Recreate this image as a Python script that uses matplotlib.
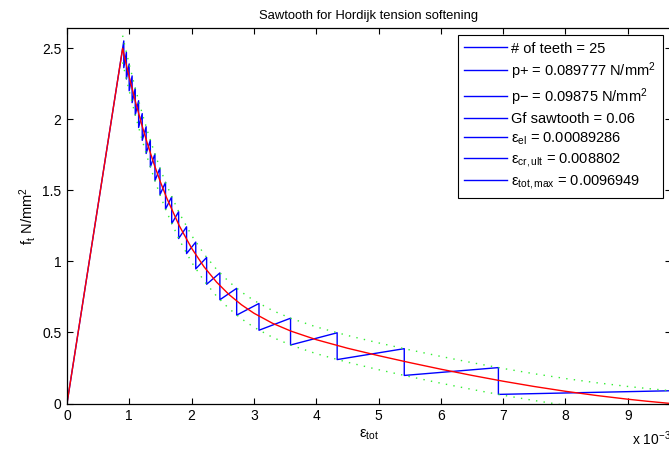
import matplotlib
matplotlib.use("Agg")
import matplotlib.pyplot as plt
from matplotlib.lines import Line2D
import numpy as np

plt.rcParams['font.family'] = ['Liberation Sans', 'DejaVu Sans']
plt.rcParams['mathtext.fontset'] = 'custom'
plt.rcParams['mathtext.rm'] = 'Liberation Sans'
plt.rcParams['mathtext.it'] = 'Liberation Sans:italic'
plt.rcParams['font.size'] = 9.5

# material / sawtooth parameters (strain values in 1e-3)
n_teeth = 25
p_plus = 0.089777
p_minus = 0.09875
gf_saw = 0.06
eps_el = 0.89286
eps_cr_ult = 8.802
eps_tot_max = 9.6949
f_t = 2.5

# Hordijk softening curve (strain in 1e-3, stress in N/mm2)
hordijk_eps = [0.0, 0.89286, 0.92, 0.95, 1.0, 1.1, 1.2, 1.3, 1.4, 1.5, 1.6, 1.8,
               2.0, 2.2, 2.4, 2.6, 2.8, 3.0, 3.3, 3.6, 4.0, 4.5, 5.0, 5.5,
               6.0, 6.5, 7.0, 7.5, 8.0, 8.5, 9.0, 9.3, 9.6949]
hordijk_sig = [0.0, 2.5, 2.447, 2.3896, 2.2970, 2.1229, 1.9629, 1.8161, 1.6817,
               1.5590, 1.4472, 1.2531, 1.0932, 0.9621, 0.8549, 0.7671, 0.6951,
               0.6357, 0.5645, 0.5087, 0.4495, 0.3894, 0.3369, 0.2880, 0.2416,
               0.1978, 0.1569, 0.1196, 0.0860, 0.0563, 0.0303, 0.0164, 0.0]

# sawtooth teeth: strain at each tooth, stress before and after the drop
tooth_eps = [0.9117, 0.9535, 0.9979, 1.0452, 1.0956, 1.1496, 1.2076, 1.2701,
             1.3378, 1.4115, 1.4922, 1.5813, 1.6804, 1.7919, 1.9191, 2.0666,
             2.2412, 2.4540, 2.7233, 3.0817, 3.5882, 4.3363, 5.4134, 6.9244,
             9.6945]
tooth_top = [2.5528, 2.4727, 2.3906, 2.3063, 2.2200, 2.1316, 2.0410, 1.9484,
             1.8536, 1.7568, 1.6580, 1.5572, 1.4545, 1.3500, 1.2439, 1.1364,
             1.0280, 0.9192, 0.8108, 0.7042, 0.6004, 0.4978, 0.3861, 0.2527,
             0.0898]
tooth_bot = [2.3643, 2.2842, 2.2020, 2.1178, 2.0315, 1.9430, 1.8525, 1.7599,
             1.6651, 1.5683, 1.4695, 1.3686, 1.2659, 1.1614, 1.0553, 0.9479,
             0.8395, 0.7306, 0.6223, 0.5157, 0.4119, 0.3092, 0.1975, 0.0641,
             -0.0987]

saw_x = [0.0]
saw_y = [0.0]
for e, top, bot in zip(tooth_eps, tooth_top, tooth_bot):
    saw_x += [e, e]
    saw_y += [top, bot]

h_eps = np.array(hordijk_eps)
h_sig = np.array(hordijk_sig)
soft = h_eps >= eps_el

fig = plt.figure(figsize=(6.69, 4.5), dpi=100)
ax = fig.add_axes([67 / 669, 46.5 / 450, 604 / 669, 375 / 450])

ax.plot(saw_x, saw_y, color='b', lw=1.0)
ax.plot(h_eps[soft], h_sig[soft] + p_plus, color='#33ee33', lw=1.0, ls=(0, (1, 4.5)))
ax.plot(h_eps[soft], h_sig[soft] - p_minus, color='#33ee33', lw=1.0, ls=(0, (1, 4.5)))
ax.plot(h_eps, h_sig, color='r', lw=1.0)

ax.set_xlim(0, eps_tot_max)
ax.set_ylim(0, 2.64)
ax.set_xticks(range(0, 10))
ax.set_yticks([0, 0.5, 1, 1.5, 2, 2.5])
ax.set_yticklabels(['0', '0.5', '1', '1.5', '2', '2.5'])
ax.tick_params(direction='in', top=True, right=True, length=4.5, width=0.8,
               pad=4, labelsize=10)
for s in ax.spines.values():
    s.set_linewidth(0.9)

ax.set_title('Sawtooth for Hordijk tension softening', pad=7, fontsize=9.4)
ax.set_xlabel(r'ε$_{\rm tot}$', labelpad=3, fontsize=10.5)
ax.set_ylabel(r'f$_{\rm t}$ N/mm$^2$', labelpad=3, fontsize=10.5)
fig.text(632 / 669, 1 - 445 / 450, r'x 10$^{-3}$', ha='left', va='baseline',
         fontsize=10)

labels = [
    '# of teeth = %d' % n_teeth,
    r'p+ = %g N/mm$^2$' % p_plus,
    r'p− = %g N/mm$^2$' % p_minus,
    'Gf sawtooth = %g' % gf_saw,
    r'ε$_{\rm el}$ = %.5g' % (eps_el * 1e-3),
    r'ε$_{\rm cr,ult}$ = %g' % (eps_cr_ult * 1e-3),
    r'ε$_{\rm tot,max}$ = %.5g' % (eps_tot_max * 1e-3),
]
handles = [Line2D([], [], color='b', lw=1.0) for _ in labels]
leg = ax.legend(handles, labels, loc='upper right',
                bbox_to_anchor=((662.7 - 67) / 604, (403.5 - 35) / 375),
                borderaxespad=0, fancybox=False, framealpha=1, edgecolor='k',
                fontsize=10.5, handlelength=2.95, handletextpad=0.28,
                labelspacing=0.3, borderpad=0.45)
leg.get_frame().set_linewidth(0.8)

fig.savefig('out.png', dpi=100)
